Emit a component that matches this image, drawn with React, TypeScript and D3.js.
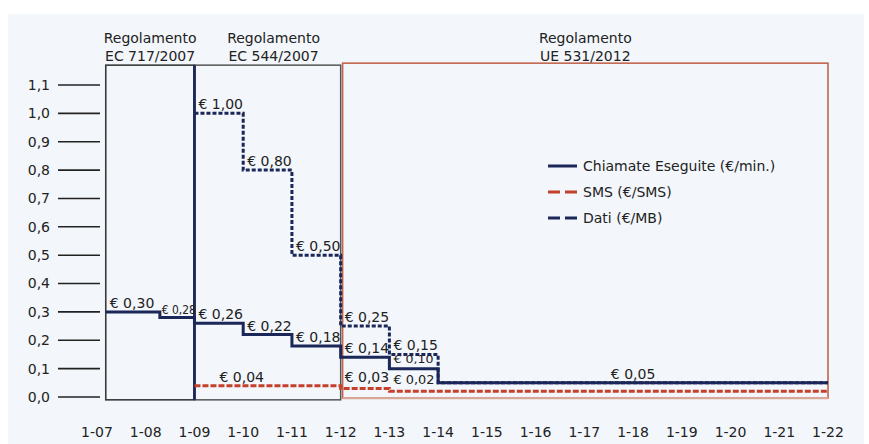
import React from "react";
import * as d3 from "d3";

// ---- data ----
const xTickYears = [2007, 2008, 2009, 2010, 2011, 2012, 2013, 2014, 2015, 2016, 2017, 2018, 2019, 2020, 2021, 2022];
const xTickLabels = ["1-07", "1-08", "1-09", "1-10", "1-11", "1-12", "1-13", "1-14", "1-15", "1-16", "1-17", "1-18", "1-19", "1-20", "1-21", "1-22"];
const yTicks = [0, 0.1, 0.2, 0.3, 0.4, 0.5, 0.6, 0.7, 0.8, 0.9, 1.0, 1.1];

// step breakpoints (years) and values per period
const callsBreaks = [2007.18, 2008.29, 2009, 2010, 2011, 2012, 2013, 2014, 2022];
const callsValues = [0.30, 0.28, 0.26, 0.22, 0.18, 0.14, 0.10, 0.05];
const smsBreaks = [2009, 2012, 2013, 2022];
const smsValues = [0.04, 0.03, 0.02];
const dataBreaks = [2009, 2010, 2011, 2012, 2013, 2014, 2022];
const dataValues = [1.00, 0.80, 0.50, 0.25, 0.15, 0.05];

const regNames = ["EC 717/2007", "EC 544/2007", "UE 531/2012"];
const regStarts = [2007.18, 2009, 2012.04];
const regEnds = [2009, 2012, 2022];

const legendLabels = ["Chiamate Eseguite (€/min.)", "SMS (€/SMS)", "Dati (€/MB)"];

// ---- styling ----
const NAVY = "#1b2758";
const RED = "#c4412b";
const TEXT = "#222";
const FONT = "'DejaVu Sans', Verdana, sans-serif";

const x = d3.scaleLinear().domain([2007, 2022]).range([97, 828]);
const y = d3.scaleLinear().domain([0, 1.1]).range([397, 85]);

const fmt = (v: number) => "€ " + d3.format(".2f")(v).replace(".", ",");

function stepPoints(breaks: number[], values: number[]): [number, number][] {
  const pts: [number, number][] = [];
  values.forEach((v, i) => {
    pts.push([breaks[i], v]);
    pts.push([breaks[i + 1], v]);
  });
  return pts;
}

const line = d3
  .line<[number, number]>()
  .x((d) => x(d[0]))
  .y((d) => y(d[1]));

type Lab = { text: string; x: number; y: number; len?: number; anchor?: string; fs: number };

function segLabels(
  breaks: number[],
  values: number[],
  opts: { skipLast?: boolean; centerLong?: boolean; longOffset?: number }
): Lab[] {
  const out: Lab[] = [];
  values.forEach((v, i) => {
    if (opts.skipLast && i === values.length - 1) return;
    const x0 = x(breaks[i]);
    const x1 = x(breaks[i + 1]);
    const w = x1 - x0;
    let fs = 14;
    let lx = x0 + 4;
    let anchor = "start";
    let len: number | undefined = undefined;
    let ly = y(v) - 4;
    if (w > 300 && opts.centerLong) {
      lx = (x0 + x1) / 2;
      anchor = "middle";
    } else if (w > 120 && w < 300 && opts.longOffset) {
      lx = x0 + opts.longOffset;
    } else if (w < 45) {
      fs = 11.5;
      lx = x0 + 2;
      len = 34;
    }
    out.push({ text: fmt(v), x: lx, y: ly, len, anchor, fs });
  });
  return out;
}

export default function App() {
  const boxTop = y(1.17);
  const boxBottom = y(-0.01);
  const callLabs = segLabels(callsBreaks, callsValues, { centerLong: true });
  const smsLabs = segLabels(smsBreaks, smsValues, { longOffset: 25 });
  const dataLabs = segLabels(dataBreaks, dataValues, { skipLast: true });
  // squeezed labels sitting between closely spaced steps
  callLabs[6] = { ...callLabs[6], fs: 11, len: 40, y: callLabs[6].y - 1.5 };
  smsLabs[2] = { ...smsLabs[2], fs: 12, len: 41, y: smsLabs[2].y - 3 };
  smsLabs[1] = { ...smsLabs[1], y: smsLabs[1].y - 2 };
  const labels: Lab[] = [...callLabs, ...smsLabs, ...dataLabs];

  return (
    <svg
      width={869}
      height={444}
      style={{ position: "absolute", left: 0, top: 0, fontFamily: FONT }}
    >
      <rect x={0} y={0} width={869} height={444} fill="#ffffff" />
      <rect x={8} y={14} width={856} height={430} fill="#f3f6fb" />

      {/* y ticks */}
      {yTicks.map((t) => (
        <g key={t}>
          <line x1={58} x2={100} y1={y(t)} y2={y(t)} stroke="#222" strokeWidth={1.6} />
          <text x={50} y={y(t)} dy="0.35em" textAnchor="end" fontSize={14} fill={TEXT}>
            {d3.format(".1f")(t).replace(".", ",")}
          </text>
        </g>
      ))}

      {/* x tick labels */}
      {xTickYears.map((yr, i) => (
        <text key={yr} x={x(yr)} y={437} textAnchor="middle" fontSize={14} fill={TEXT}>
          {xTickLabels[i]}
        </text>
      ))}

      {/* regulation boxes */}
      <rect
        x={x(regStarts[0])}
        y={boxTop}
        width={x(regEnds[0]) - x(regStarts[0])}
        height={boxBottom - boxTop}
        fill="none"
        stroke="#3a3a3a"
        strokeWidth={1.6}
      />
      <rect
        x={x(regStarts[1])}
        y={boxTop}
        width={x(regEnds[1]) - x(regStarts[1])}
        height={boxBottom - boxTop}
        fill="none"
        stroke="#555"
        strokeWidth={1.5}
      />
      <line
        x1={x(regStarts[1])}
        x2={x(regStarts[1])}
        y1={boxTop}
        y2={boxBottom}
        stroke={NAVY}
        strokeWidth={2.8}
      />
      <rect
        x={x(regStarts[2])}
        y={y(1.177)}
        width={x(regEnds[2]) - x(regStarts[2])}
        height={y(-0.004) - y(1.177)}
        fill="none"
        stroke="#c2654e"
        strokeWidth={1.6}
      />
      <line
        x1={x(regStarts[2])}
        x2={x(regEnds[2])}
        y1={y(-0.004)}
        y2={y(-0.004)}
        stroke="#dba898"
        strokeWidth={2}
      />

      {/* regulation headers */}
      {regNames.map((n, i) => {
        const cx = (x(regStarts[i]) + x(regEnds[i])) / 2 + (i === 1 ? 6 : 0);
        return (
          <text key={n} x={cx} textAnchor="middle" fontSize={14} fill={TEXT}>
            <tspan x={cx} y={43}>Regolamento</tspan>
            <tspan x={cx} y={61}>{n}</tspan>
          </text>
        );
      })}

      {/* series */}
      <path
        d={line(stepPoints(smsBreaks, smsValues)) || ""}
        fill="none"
        stroke={RED}
        strokeWidth={3}
        strokeDasharray="6,2"
      />
      <path
        d={line(stepPoints(callsBreaks, callsValues)) || ""}
        fill="none"
        stroke={NAVY}
        strokeWidth={3}
      />
      <path
        d={line(stepPoints(dataBreaks, dataValues)) || ""}
        fill="none"
        stroke={NAVY}
        strokeWidth={3}
        strokeDasharray="4,2"
      />

      {/* value labels */}
      {labels.map((l, i) => (
        <text
          key={i}
          x={l.x}
          y={l.y}
          fontSize={l.fs}
          fill={TEXT}
          textAnchor={l.anchor}
          textLength={l.len}
          lengthAdjust={l.len ? "spacingAndGlyphs" : undefined}
        >
          {l.text}
        </text>
      ))}

      {/* legend */}
      {legendLabels.map((lab, i) => {
        const ly = 166 + i * 26;
        return (
          <g key={lab}>
            <line
              x1={548}
              x2={577}
              y1={ly}
              y2={ly}
              stroke={i === 1 ? RED : NAVY}
              strokeWidth={3}
              strokeDasharray={i === 0 ? undefined : "12,5"}
            />
            <text x={583} y={ly} dy="0.35em" fontSize={14} fill={TEXT}>
              {lab}
            </text>
          </g>
        );
      })}
    </svg>
  );
}
